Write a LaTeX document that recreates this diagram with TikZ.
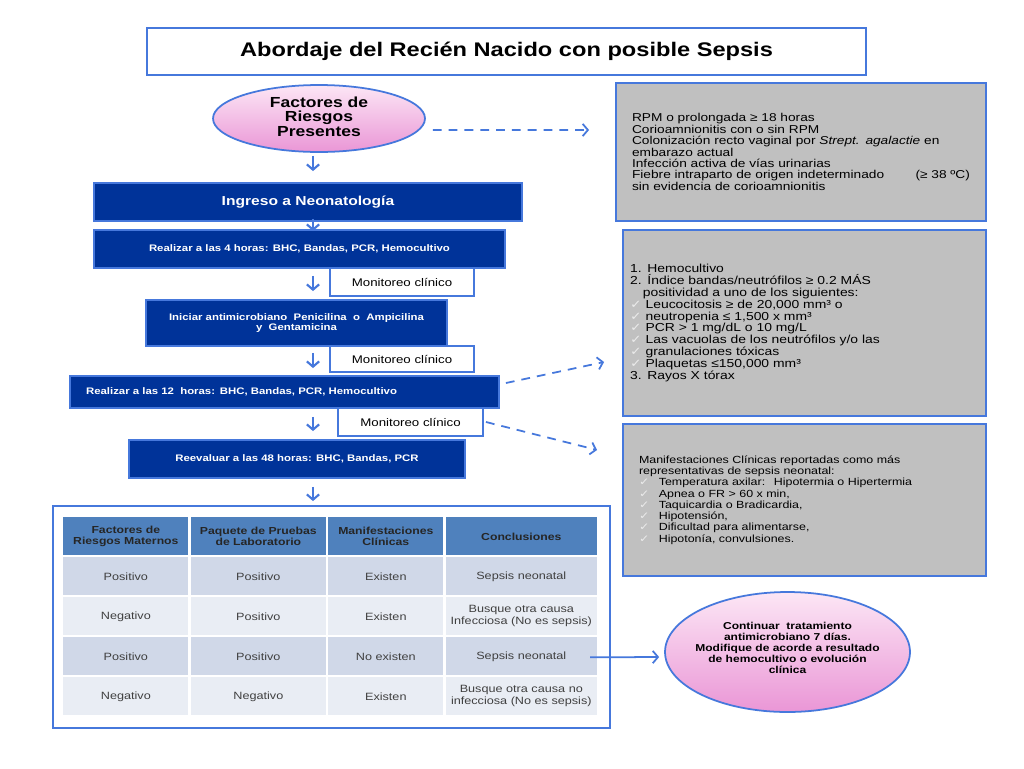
\documentclass[tikz,border=0pt]{standalone}
\usepackage{fontspec}
\setmainfont{Liberation Sans}[FakeStretch=1.2]
\newfontfamily\simbolos{DejaVu Sans}[FakeStretch=1.2]
\usetikzlibrary{shapes.geometric,arrows.meta,matrix}

\definecolor{bordeAzul}{RGB}{70,120,220}
\definecolor{azulOscuro}{RGB}{0,51,153}
\definecolor{grisCaja}{RGB}{192,192,192}
\definecolor{rosaClaro}{RGB}{252,230,245}
\definecolor{rosaFuerte}{RGB}{234,150,214}
\definecolor{cabezaTabla}{RGB}{79,129,189}
\definecolor{filaA}{RGB}{208,216,232}
\definecolor{filaB}{RGB}{233,237,244}
\definecolor{grisTexto}{RGB}{64,64,64}
\definecolor{grisPalomita}{RGB}{235,235,235}

\newcommand{\palomita}{{\simbolos\color{grisPalomita}✓}}

\tikzset{
  caja/.style={draw=bordeAzul, line width=1.1pt, inner sep=0pt},
  paso/.style={caja, fill=azulOscuro, text=white, align=center,
    font=\bfseries\fontsize{5.4}{6.2}\selectfont},
  monitor/.style={caja, fill=white, font=\fontsize{6.3}{7}\selectfont},
  nube/.style={ellipse, draw=bordeAzul, line width=1pt, top color=rosaClaro,
    bottom color=rosaFuerte, inner sep=0pt},
  gris/.style={caja, fill=grisCaja, align=left},
  bajada/.style={draw=bordeAzul, line width=1.2pt, -{Straight Barb[length=3pt,width=7pt]}},
  punteada/.style={draw=bordeAzul, line width=1pt, dash pattern=on 5pt off 4pt,
    -{Straight Barb[length=3pt,width=7pt]}},
  celda/.style={anchor=center, minimum height=0.76cm, inner xsep=1pt, inner ysep=0pt, align=center,
    text=grisTexto, font=\fontsize{6}{6.8}\selectfont},
  cabeza/.style={fill=cabezaTabla, text=black!85, font=\bfseries\fontsize{5.8}{6.6}\selectfont}
}

\begin{document}
\begin{tikzpicture}[x=0.02cm,y=-0.02cm]
\fill[white] (0,0) rectangle (1024,768);

% titulo y factores de riesgo
\node[caja, fill=white, minimum width=14.38cm, minimum height=0.94cm,
  font=\bfseries\fontsize{11.2}{13}\selectfont] (titulo) at (506.5,51.5) {Abordaje del Recién Nacido con posible Sepsis};
\node[nube, minimum width=4.24cm, minimum height=1.34cm] (riesgos) at (319,118.5) {};
\node[align=center, font=\bfseries\fontsize{8.3}{8.3}\selectfont] (riesgosTxt) at ([shift={(0,-2)}]riesgos.center) {Factores de\\Riesgos\\Presentes};

% cajas grises
\node[gris, minimum width=7.4cm, minimum height=2.76cm, text width=6.76cm,
  font=\fontsize{6.5}{6.5}\selectfont] (cajaRiesgos) at (801,152) {RPM o prolongada ≥ 18 horas\\
Corioamnionitis con o sin RPM\\
Colonización recto vaginal por \textit{Strept. agalactie} en\\
embarazo actual\\
Infección activa de vías urinarias\\
Fiebre intraparto de origen indeterminado\hfill(≥ 38 ºC)\\
sin evidencia de corioamnionitis};
\node[gris, minimum width=7.26cm, minimum height=3.72cm, text width=6.98cm,
  font=\fontsize{6.6}{6.75}\selectfont] (cajaLab) at (804.5,323) {1. Hemocultivo\\
2. Índice bandas/neutrófilos ≥ 0.2 MÁS\\
\hspace*{1.1em}positividad a uno de los siguientes:\\
\palomita\ Leucocitosis ≥ de 20,000 mm³ o\\
\palomita\ neutropenia ≤ 1,500 x mm³\\
\palomita\ PCR > 1 mg/dL o 10 mg/L\\
\palomita\ Las vacuolas de los neutrófilos y/o las\\
\palomita\ granulaciones tóxicas\\
\palomita\ Plaquetas ≤150,000 mm³\\
3. Rayos X tórax};
\node[gris, minimum width=7.26cm, minimum height=3.04cm, text width=6.62cm,
  font=\fontsize{5.9}{6.4}\selectfont] (cajaClinica) at (804.5,500) {Manifestaciones Clínicas reportadas como más\\
representativas de sepsis neonatal:\\
\palomita\hspace{0.9em}Temperatura axilar:~ Hipotermia o Hipertermia\\
\palomita\hspace{0.9em}Apnea o FR > 60 x min,\\
\palomita\hspace{0.9em}Taquicardia o Bradicardia,\\
\palomita\hspace{0.9em}Hipotensión,\\
\palomita\hspace{0.9em}Dificultad para alimentarse,\\
\palomita\hspace{0.9em}Hipotonía, convulsiones.};

% pasos del abordaje
\node[paso, minimum width=8.56cm, minimum height=0.76cm,
  font=\bfseries\fontsize{7.4}{8}\selectfont] (ingreso) at (308,202) {Ingreso a Neonatología};
\node[paso, minimum width=8.22cm, minimum height=0.76cm] (realizar4) at (299.5,249) {Realizar a las 4 horas: BHC, Bandas, PCR, Hemocultivo};
\node[monitor, minimum width=2.88cm, minimum height=0.56cm] (monitor1) at (402,282) {Monitoreo clínico};
\node[paso, minimum width=6.02cm, minimum height=0.92cm] (iniciar) at (296.5,323) {Iniciar antimicrobiano~ Penicilina~ o~ Ampicilina\\y~ Gentamicina};
\node[monitor, minimum width=2.88cm, minimum height=0.52cm] (monitor2) at (402,359) {Monitoreo clínico};
\node[paso, minimum width=8.58cm, minimum height=0.64cm, text width=7.94cm, align=left] (realizar12) at (284.5,392) {Realizar a las 12~ horas: BHC, Bandas, PCR, Hemocultivo};
\node[monitor, minimum width=2.9cm, minimum height=0.56cm] (monitor3) at (410.5,422) {Monitoreo clínico};
\node[paso, minimum width=6.72cm, minimum height=0.76cm] (reevaluar) at (297,459) {Reevaluar a las 48 horas: BHC, Bandas, PCR};

% tabla de conclusiones
\node[caja, fill=white, minimum width=11.14cm, minimum height=4.44cm] (tabla) at (331.5,617) {};
\matrix (tab) [matrix of nodes, anchor=north west, inner sep=0pt, row sep=0.04cm, column sep=0.05cm,
  nodes={celda},
  column 1/.style={nodes={text width=2.43cm}},
  column 2/.style={nodes={text width=2.63cm}},
  column 3/.style={nodes={text width=2.23cm}},
  column 4/.style={nodes={text width=2.95cm}},
  row 1/.style={nodes={cabeza}},
  row 2/.style={nodes={fill=filaA}}, row 3/.style={nodes={fill=filaB}},
  row 4/.style={nodes={fill=filaA}}, row 5/.style={nodes={fill=filaB}}] at (63,517) {
  {Factores de\\Riesgos Maternos} & {Paquete de Pruebas\\de Laboratorio} & {Manifestaciones\\Clínicas} & Conclusiones \\
  Positivo & Positivo & Existen & Sepsis neonatal \\
  Negativo & Positivo & Existen & {Busque otra causa\\Infecciosa (No es sepsis)} \\
  Positivo & Positivo & No existen & Sepsis neonatal \\
  Negativo & Negativo & Existen & {Busque otra causa no\\infecciosa (No es sepsis)} \\
};

\node[nube, minimum width=4.9cm, minimum height=2.4cm] (continuar) at (787.5,652) {};
\node[align=center, font=\bfseries\fontsize{5.7}{6.3}\selectfont] (continuarTxt) at ([shift={(0,-4)}]continuar.center) {Continuar~ tratamiento\\antimicrobiano 7 días.\\Modifique de acorde a resultado\\de hemocultivo o evolución\\clínica};

% flechas
\coordinate (eje) at (313,0);
\draw[bajada, shorten <=0.06cm, shorten >=0.22cm] (riesgos.south -| eje) -- (ingreso.north -| eje);
\draw[bajada, shorten <=-0.06cm, shorten >=-0.04cm] (ingreso.south -| eje) -- (realizar4.north -| eje);
\draw[bajada, shorten <=0.14cm, shorten >=0.16cm] (realizar4.south -| eje) -- (iniciar.north -| eje);
\draw[bajada, shorten <=0.12cm, shorten >=0.14cm] (iniciar.south -| eje) -- (realizar12.north -| eje);
\draw[bajada, shorten <=0.16cm, shorten >=0.16cm] (realizar12.south -| eje) -- (reevaluar.north -| eje);
\draw[bajada, shorten <=0.16cm, shorten >=0.08cm] (reevaluar.south -| eje) -- (tabla.north -| eje);

\draw[punteada] ([shift={(7,11.5)}]riesgos.east) -- ([shift={(-26,-22)}]cajaRiesgos.west);
\draw[punteada] ([shift={(6,-9)}]realizar12.east) -- ([shift={(-18,39)}]cajaLab.west);
\draw[punteada] ([shift={(2,0)}]monitor3.east) -- ([shift={(-25,-50)}]cajaClinica.west);
\draw[bajada, line width=1pt] ([shift={(-7,1)}]tab-4-4.east) -- ([shift={(-5,5)}]continuar.west);
\end{tikzpicture}
\end{document}
